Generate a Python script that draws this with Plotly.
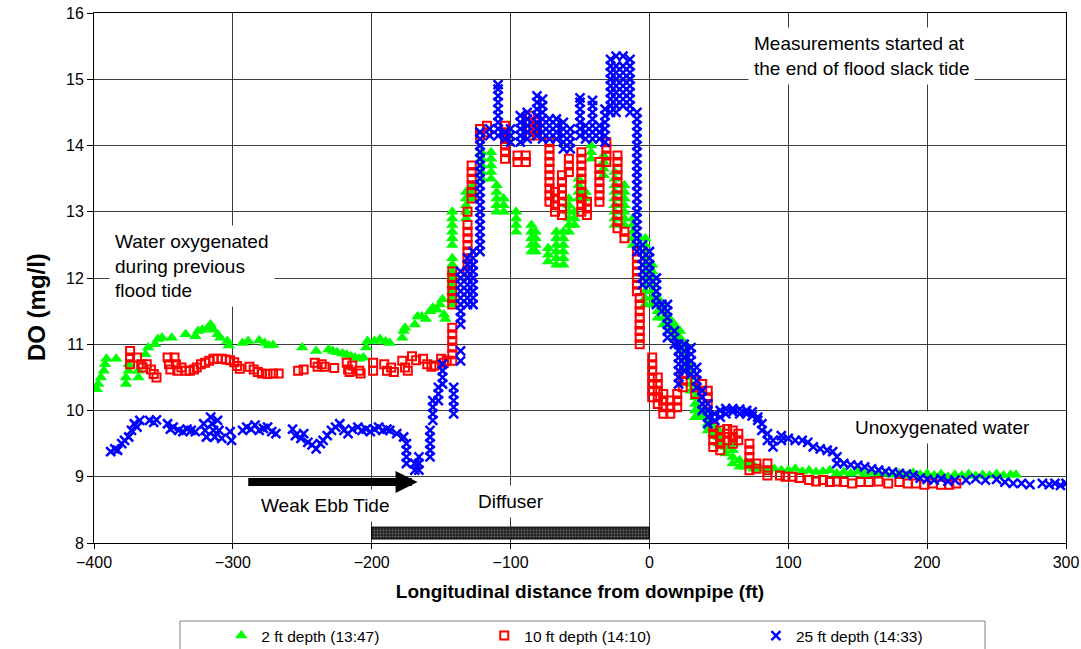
import plotly.graph_objects as go

# Dissolved-oxygen survey along the diffuser line.
# Each row: (distance from downpipe in ft, DO readings in mg/l logged at that distance)

d2_rows = [  # 2 ft depth (13:47)
    (-398, 10.32), (-397, 10.4), (-395, 10.5), (-393, 10.6), (-392, 10.7), (-391, 10.78),
    (-384, 10.78), (-377, 10.4, 10.5), (-375, 10.6, 10.7),
    (-368, 10.5, 10.6), (-363, 10.85), (-361, 10.95),
    (-356, 11.0), (-354, 11.08), (-351, 11.1), (-344, 11.1), (-334, 11.15),
    (-327, 11.12), (-325, 11.2), (-322, 11.22), (-318, 11.25), (-316, 11.3), (-314, 11.22),
    (-311, 11.15), (-309, 11.1), (-304, 11.05), (-303, 10.98), (-293, 11.02), (-289, 11.05),
    (-281, 11.06), (-277, 11.02), (-274, 10.98), (-271, 10.99),
    (-250, 10.95), (-240, 10.9), (-231, 10.92), (-228, 10.9), (-225, 10.88), (-221, 10.86),
    (-218, 10.84), (-215, 10.82), (-212, 10.8), (-209, 10.78), (-206, 10.8), (-204, 10.95),
    (-203, 11.05), (-198, 11.05), (-194, 11.08), (-190, 11.04), (-187, 11.02), (-178, 11.1),
    (-177, 11.2), (-176, 11.25), (-169, 11.3), (-167, 11.42), (-164, 11.42), (-161, 11.38),
    (-158, 11.5), (-156, 11.55), (-153, 11.52), (-151, 11.6), (-149, 11.68), (-148, 11.45),
    (-147, 11.38),
    (-142, 11.6, 11.7, 11.8, 11.9, 12.0, 12.1, 12.2, 12.3, 12.5, 12.6, 12.7, 12.8, 12.9, 13.0),
    (-132, 12.9, 13.0, 13.1, 13.2, 13.3), (-127, 13.2, 13.3, 13.4),
    (-121, 13.5, 13.6, 13.7, 13.8, 13.9), (-114, 13.5, 13.6, 13.7, 13.8, 13.9),
    (-110, 13.0, 13.1, 13.2, 13.3, 13.4), (-105, 13.0, 13.1, 13.2),
    (-96, 12.7, 12.8, 12.9, 13.0), (-85, 12.4, 12.5, 12.6, 12.7, 12.8),
    (-82, 12.4, 12.5, 12.6, 12.7), (-73, 12.25, 12.35, 12.45),
    (-67, 12.2, 12.3, 12.4, 12.5, 12.6, 12.7), (-62, 12.2, 12.3, 12.4, 12.5, 12.6, 12.7),
    (-58, 12.7, 12.8, 12.9, 13.0, 13.1, 13.2), (-54, 12.8, 12.9, 13.0),
    (-51, 13.2, 13.3, 13.4, 13.5), (-46, 13.2, 13.3), (-42, 13.8, 13.9, 14.0),
    (-33, 13.55, 13.65, 13.75, 13.85),
    (-25, 12.8, 12.9, 13.0, 13.1, 13.2, 13.3, 13.4, 13.5, 13.6),
    (-18, 12.8, 12.9, 13.0, 13.1, 13.2, 13.3, 13.4),
    (-12, 12.5, 12.6, 12.7, 12.8, 12.9), (-7, 12.5, 12.6),
    (-3, 11.6, 11.7, 11.8, 11.9, 12.0, 12.1, 12.2, 12.3, 12.4, 12.5, 12.6),
    (2, 11.6, 11.7, 11.8, 11.9, 12.0, 12.1, 12.2), (6, 11.4, 11.5, 11.6, 11.7),
    (10, 11.3, 11.4, 11.5, 11.6), (14, 11.2, 11.3, 11.4), (18, 11.1, 11.2, 11.3),
    (22, 10.9, 11.0, 11.1, 11.2), (26, 10.6, 10.7, 10.8, 10.9, 11.0),
    (30, 10.3, 10.4, 10.5, 10.6, 10.7), (33, 9.9, 10.0, 10.1, 10.2, 10.3),
    (37, 9.9, 10.0), (42, 9.7, 9.8, 9.9), (46, 9.65, 9.75), (50, 9.5, 9.6, 9.7),
    (55, 9.35, 9.45), (60, 9.2, 9.3, 9.4, 9.5), (65, 9.15, 9.25), (70, 9.15, 9.22),
    (75, 9.12, 9.18), (80, 9.12), (85, 9.1), (90, 9.12), (95, 9.1), (100, 9.1), (105, 9.12),
    (110, 9.08), (115, 9.1), (120, 9.07), (125, 9.08), (130, 9.1), (135, 9.05), (140, 9.07),
    (145, 9.05), (150, 9.08), (155, 9.04), (160, 9.06), (165, 9.05), (170, 9.05), (175, 9.03),
    (180, 9.05), (185, 9.02), (190, 9.06), (195, 9.03), (200, 9.05), (205, 9.02), (210, 9.04),
    (215, 9.0), (220, 9.03), (225, 9.02), (230, 9.04), (235, 9.01), (240, 9.03), (245, 9.02),
    (250, 9.04), (255, 9.02), (260, 9.03), (264, 9.03),
]

d10_rows = [  # 10 ft depth (14:10)
    (-374, 10.7, 10.8, 10.9), (-369, 10.8), (-366, 10.7), (-365, 10.65), (-362, 10.7),
    (-359, 10.62), (-357, 10.55), (-355, 10.5), (-347, 10.8), (-346, 10.7), (-345, 10.62),
    (-342, 10.8), (-341, 10.7), (-340, 10.6), (-337, 10.65), (-334, 10.6), (-331, 10.6),
    (-328, 10.62), (-326, 10.65), (-323, 10.7), (-320, 10.72), (-317, 10.75), (-314, 10.78),
    (-311, 10.78), (-308, 10.78), (-305, 10.77), (-302, 10.76), (-299, 10.73), (-297, 10.67),
    (-295, 10.63), (-288, 10.66), (-285, 10.62), (-282, 10.58), (-279, 10.56), (-275, 10.55),
    (-271, 10.56), (-267, 10.56),
    (-253, 10.6), (-249, 10.62), (-241, 10.72), (-239, 10.66), (-236, 10.7), (-234, 10.66),
    (-227, 10.64), (-218, 10.72), (-217, 10.62), (-216, 10.58), (-214, 10.68), (-209, 10.6),
    (-208, 10.56), (-199, 10.6, 10.72), (-191, 10.7), (-189, 10.6), (-186, 10.65),
    (-184, 10.58), (-178, 10.75), (-176, 10.65), (-174, 10.6), (-171, 10.82), (-168, 10.76),
    (-163, 10.78), (-160, 10.7), (-157, 10.66), (-155, 10.68), (-150, 10.78), (-148, 10.72),
    (-146, 10.75),
    (-142, 10.75, 10.85, 10.95, 11.05, 11.15, 11.25, 11.6, 11.7, 11.8, 11.9, 12.0, 12.1),
    (-131, 12.1, 12.2, 12.3, 12.4, 12.5, 12.6, 12.7, 12.8, 13.0),
    (-128, 13.2, 13.3, 13.4, 13.5, 13.6, 13.7), (-122, 14.15, 14.25), (-117, 14.2, 14.3),
    (-104, 13.8, 13.9, 14.0, 14.1, 14.2, 14.3), (-95, 13.75, 13.85), (-89, 13.75, 13.85),
    (-86, 14.15, 14.25, 14.35, 14.45), (-81, 14.15, 14.25, 14.35),
    (-72, 13.15, 13.25, 13.35, 13.45, 13.55, 13.65, 13.75, 13.85, 13.95, 14.05),
    (-68, 13.0, 13.1, 13.2, 13.3), (-63, 12.95, 13.05, 13.15, 13.25, 13.35, 13.45, 13.55),
    (-58, 13.6, 13.7, 13.8),
    (-49, 13.0, 13.1, 13.2, 13.3, 13.4, 13.5, 13.6, 13.7, 13.8, 13.9),
    (-45, 12.95, 13.05, 13.15), (-36, 13.15, 13.25, 13.35, 13.45, 13.55, 13.65, 13.75),
    (-31, 13.75, 13.85, 13.95, 14.05),
    (-23, 12.75, 12.85, 12.95, 13.05, 13.15, 13.25, 13.35, 13.45, 13.55, 13.65, 13.75, 13.85),
    (-18, 12.6, 12.7), (-9, 11.8, 11.9, 12.0, 12.1, 12.2, 12.3, 12.4),
    (-7, 11.0, 11.1, 11.2, 11.3, 11.4, 11.5, 11.6, 11.7),
    (2, 10.2, 10.3, 10.4, 10.5, 10.6, 10.7, 10.8), (6, 10.1, 10.2, 10.3, 10.4, 10.5),
    (10, 9.95, 10.05, 10.15, 10.25), (15, 9.95, 10.05, 10.15), (20, 10.05, 10.15, 10.25),
    (24, 10.35, 10.45, 10.55), (33, 10.25, 10.35, 10.45), (38, 10.3, 10.4),
    (42, 10.1, 10.2, 10.3), (46, 9.45, 9.55, 9.65, 9.75), (51, 9.4, 9.5, 9.6, 9.7),
    (56, 9.55, 9.65, 9.72), (60, 9.5, 9.6, 9.7), (64, 9.55, 9.65),
    (72, 9.1, 9.2, 9.3, 9.4, 9.5), (77, 9.12, 9.2), (85, 9.02, 9.1, 9.2),
    (94, 9.02), (98, 9.0), (103, 9.0), (108, 8.98), (115, 8.95), (120, 8.93), (125, 8.95),
    (130, 8.92), (135, 8.93), (140, 8.92), (146, 8.9), (152, 8.92), (158, 8.92), (165, 8.93),
    (172, 8.9), (180, 8.92), (186, 8.9), (192, 8.9), (198, 8.88), (204, 8.9), (210, 8.88),
    (216, 8.88), (221, 8.9),
]

d25_rows = [  # 25 ft depth (14:33)
    (-388, 9.38), (-385, 9.42), (-383, 9.4), (-380, 9.5), (-378, 9.55), (-375, 9.6),
    (-373, 9.7), (-371, 9.8), (-369, 9.75), (-367, 9.85), (-360, 9.85), (-357, 9.82),
    (-355, 9.86), (-347, 9.8), (-345, 9.72), (-343, 9.75), (-339, 9.7), (-336, 9.68),
    (-333, 9.72), (-330, 9.7), (-327, 9.68), (-321, 9.8), (-320, 9.7), (-319, 9.6),
    (-316, 9.9), (-315, 9.8), (-314, 9.7), (-313, 9.6), (-311, 9.85), (-310, 9.7),
    (-308, 9.58), (-302, 9.68), (-301, 9.55), (-293, 9.7), (-290, 9.75), (-287, 9.72),
    (-284, 9.78), (-281, 9.7), (-278, 9.73), (-275, 9.75), (-272, 9.68), (-269, 9.65),
    (-257, 9.72), (-255, 9.62), (-251, 9.58), (-249, 9.65), (-246, 9.52), (-243, 9.48),
    (-240, 9.42), (-237, 9.5), (-235, 9.55), (-232, 9.62), (-229, 9.7), (-226, 9.75),
    (-223, 9.8), (-220, 9.7), (-217, 9.65), (-214, 9.72), (-210, 9.75), (-207, 9.7),
    (-204, 9.72), (-201, 9.68), (-198, 9.72), (-195, 9.75), (-192, 9.7), (-189, 9.72),
    (-187, 9.7), (-182, 9.65), (-177, 9.6), (-175, 9.2, 9.3, 9.4, 9.5),
    (-169, 9.1, 9.2), (-166, 9.1, 9.2, 9.3), (-158, 9.3, 9.4, 9.5, 9.6, 9.7),
    (-156, 9.85, 9.95, 10.05, 10.15), (-152, 10.15, 10.25, 10.35),
    (-149, 10.4, 10.5, 10.6, 10.7),
    (-141, 9.95, 10.05, 10.15, 10.25, 10.35),
    (-136, 10.75, 10.9, 11.3, 11.4, 11.5, 11.6, 11.7, 11.8, 11.9, 12.0, 12.1),
    (-131, 11.6, 11.7, 11.8, 11.9, 12.0, 12.1, 12.2, 12.3),
    (-127, 11.6, 11.7, 11.8, 11.9, 12.0, 12.1, 12.2, 12.3, 12.4),
    (-122, 12.4, 12.5, 12.6, 12.7, 12.8, 12.9, 13.0, 13.1, 13.2, 13.3, 13.4, 13.5, 13.6,
     13.7, 13.8, 13.9, 14.0, 14.1, 14.2),
    (-115, 14.15, 14.25),
    (-109, 14.15, 14.25, 14.35, 14.45, 14.55, 14.65, 14.75, 14.85, 14.92),
    (-104, 14.1, 14.2), (-100, 14.05, 14.15, 14.25),
    (-93, 14.05, 14.15, 14.25, 14.35, 14.45), (-88, 14.1, 14.2, 14.3, 14.4, 14.5),
    (-81, 14.15, 14.25, 14.35, 14.45, 14.55, 14.65, 14.75),
    (-77, 14.1, 14.2, 14.3, 14.4, 14.5, 14.6, 14.7),
    (-72, 14.1, 14.2, 14.3, 14.4), (-67, 14.1, 14.2, 14.3, 14.4),
    (-62, 13.95, 14.05, 14.15, 14.25, 14.35), (-57, 13.95, 14.05, 14.15, 14.25),
    (-50, 14.15, 14.25, 14.35, 14.45, 14.55, 14.65, 14.72), (-46, 14.1, 14.2, 14.3),
    (-41, 14.1, 14.2, 14.3, 14.4, 14.5, 14.6, 14.68), (-36, 14.1, 14.2, 14.3),
    (-32, 14.05, 14.15, 14.25, 14.35, 14.45, 14.55),
    (-28, 14.5, 14.6, 14.7, 14.8, 14.9, 15.0, 15.1, 15.2, 15.3),
    (-24, 14.5, 14.6, 14.7, 14.8, 14.9, 15.0, 15.1, 15.2, 15.35),
    (-19, 14.6, 14.7, 14.8, 14.9, 15.0, 15.1, 15.2, 15.35),
    (-14, 14.5, 14.6, 14.7, 14.8, 14.9, 15.0, 15.1, 15.2, 15.3),
    (-9, 12.4, 12.5, 12.6, 12.7, 12.8, 12.9, 13.0, 13.1, 13.2, 13.3, 13.4, 13.5, 13.6, 13.7,
     13.8, 13.9, 14.0, 14.1, 14.2, 14.3, 14.4, 14.5),
    (-5, 11.9, 12.0, 12.1, 12.2, 12.3, 12.4, 12.5), (0, 11.9, 12.0, 12.1, 12.2, 12.3, 12.4),
    (5, 11.6, 11.7, 11.8, 11.9, 12.0), (9, 11.5, 11.6),
    (13, 11.1, 11.2, 11.3, 11.4, 11.5, 11.6), (18, 11.0, 11.1, 11.2),
    (21, 10.4, 10.5, 10.6, 10.7, 10.8, 10.9, 11.0), (25, 10.6, 10.7, 10.8, 10.9, 11.0),
    (30, 10.55, 10.65, 10.75, 10.85, 10.95), (34, 10.35, 10.45, 10.55, 10.65),
    (38, 10.0, 10.1, 10.2, 10.3), (42, 9.8, 9.9, 10.0, 10.1), (47, 9.85, 9.95),
    (51, 9.9, 10.0), (55, 9.95, 10.03), (60, 9.98, 10.03), (65, 9.95, 10.02), (70, 9.95, 10.0),
    (74, 9.92, 9.98), (78, 9.85, 9.9), (81, 9.7, 9.8), (85, 9.55, 9.65), (89, 9.45, 9.55),
    (95, 9.55, 9.62), (100, 9.58), (105, 9.55), (110, 9.55), (114, 9.52), (118, 9.45),
    (123, 9.42), (128, 9.4), (132, 9.38), (135, 9.2, 9.3), (140, 9.2), (145, 9.18),
    (150, 9.17), (155, 9.15), (160, 9.12), (165, 9.1), (170, 9.08), (175, 9.07), (180, 9.05),
    (185, 9.04), (190, 9.02), (195, 8.98), (200, 8.96), (205, 8.95), (210, 8.97), (215, 8.93),
    (220, 8.95), (228, 8.95), (235, 8.97), (242, 8.95), (250, 8.96), (256, 8.92), (262, 8.9),
    (268, 8.9), (274, 8.88), (283, 8.9), (288, 8.88), (292, 8.9), (296, 8.87), (300, 8.9),
]

series_names = ["2 ft depth (13:47)", "10 ft depth (14:10)", "25 ft depth (14:33)"]

# Diffuser extent along the line (ft)
diffuser_start, diffuser_end = -200, 0


def expand(rows):
    xs = [r[0] for r in rows for _ in r[1:]]
    ys = [v for r in rows for v in r[1:]]
    return xs, ys


FONT = "Liberation Sans, Arial, sans-serif"
fig = go.Figure()

x2, y2 = expand(d2_rows)
x10, y10 = expand(d10_rows)
x25, y25 = expand(d25_rows)

fig.add_trace(go.Scatter(
    x=x2, y=y2, mode="markers", name=series_names[0], legend="legend",
    marker=dict(symbol="triangle-up", size=11, color="#00ff00", line=dict(width=0)),
))
fig.add_trace(go.Scatter(
    x=x10, y=y10, mode="markers", name=series_names[1], legend="legend2",
    marker=dict(symbol="square-open", size=8, color="#ff0000", line=dict(width=2, color="#ff0000")),
))
fig.add_trace(go.Scatter(
    x=x25, y=y25, mode="markers", name=series_names[2], legend="legend3",
    marker=dict(symbol="x-thin", size=9, color="#0000ff", line=dict(width=2.5, color="#0000ff")),
))

# Diffuser bar
fig.add_trace(go.Bar(
    x=[diffuser_end - diffuser_start], base=[diffuser_start], y=[8.15], width=0.18,
    orientation="h", showlegend=False, hoverinfo="skip",
    marker=dict(color="#222222", line=dict(color="#000000", width=1),
                pattern=dict(shape=".", fgcolor="#a8a8a8", bgcolor="#1e1e1e", size=3, solidity=0.4)),
))

grid = "#3c3c3c"
fig.update_xaxes(
    range=[-400, 300], dtick=100, tick0=-400, showgrid=True, gridcolor=grid, gridwidth=1,
    zeroline=False, showline=True, linecolor="#000000", linewidth=1, mirror=True,
    ticks="outside", ticklen=5, tickcolor="#000000",
    tickfont=dict(size=16, color="#000000", family=FONT),
    title=dict(text="<b>Longitudinal distance from downpipe (ft)</b>",
               font=dict(size=19, color="#000000", family=FONT), standoff=14),
)
fig.update_yaxes(
    range=[8, 16], dtick=1, showgrid=True, gridcolor=grid, gridwidth=1,
    zeroline=False, showline=True, linecolor="#000000", linewidth=1, mirror=True,
    ticks="outside", ticklen=6, tickcolor="#000000",
    tickfont=dict(size=16, color="#000000", family=FONT),
)

# Y axis title, set slightly below the plot's mid-height
fig.add_annotation(text="<b>DO (mg/l)</b>", textangle=-90, xref="paper", yref="paper",
                   x=-0.0597, y=0.445, xanchor="center", yanchor="middle", showarrow=False,
                   font=dict(size=24, color="#000000", family=FONT))

ann_font = dict(size=19, color="#000000", family=FONT)
annotations = [
    dict(x=71, y=15.35, xanchor="left", yanchor="middle", align="left",
         text="Measurements started at<br>the end of flood slack tide"),
    dict(x=-389, y=12.18, xanchor="left", yanchor="middle", align="left",
         text="Water oxygenated<br>during previous<br>flood tide"),
    dict(x=211, y=9.74, xanchor="center", yanchor="middle", text="Unoxygenated water"),
    dict(x=-233, y=8.57, xanchor="center", yanchor="middle", text="Weak Ebb Tide"),
    dict(x=-100, y=8.62, xanchor="center", yanchor="middle", text="Diffuser"),
]
for a in annotations:
    fig.add_annotation(**a, xref="x", yref="y", showarrow=False, font=ann_font,
                       bgcolor="#ffffff", borderpad=5)

# Ebb tide direction arrow
fig.add_annotation(x=-167, y=8.92, ax=-290, ay=8.92, xref="x", yref="y", axref="x", ayref="y",
                   text="", showarrow=True, arrowhead=2, arrowsize=0.55, arrowwidth=8,
                   arrowcolor="#000000")

# Legend frame below the plot
fig.add_shape(type="rect", xref="paper", yref="paper", x0=0.0885, x1=0.9167, y0=-0.23, y1=-0.1472,
              line=dict(color="#7f7f7f", width=1), fillcolor="#ffffff", layer="below")

leg = dict(orientation="h", yanchor="middle", y=-0.1755, xanchor="left", itemwidth=30,
           bgcolor="rgba(0,0,0,0)", borderwidth=0, font=dict(size=15.5, color="#000000", family=FONT))

fig.update_layout(
    width=1081, height=649,
    margin=dict(l=94, r=15, t=13, b=106, autoexpand=False),
    paper_bgcolor="#ffffff", plot_bgcolor="#ffffff",
    font=dict(family=FONT, color="#000000"),
    legend={**leg, "x": 0.131},
    legend2={**leg, "x": 0.4015},
    legend3={**leg, "x": 0.681},
)

fig.write_html("out.html")
